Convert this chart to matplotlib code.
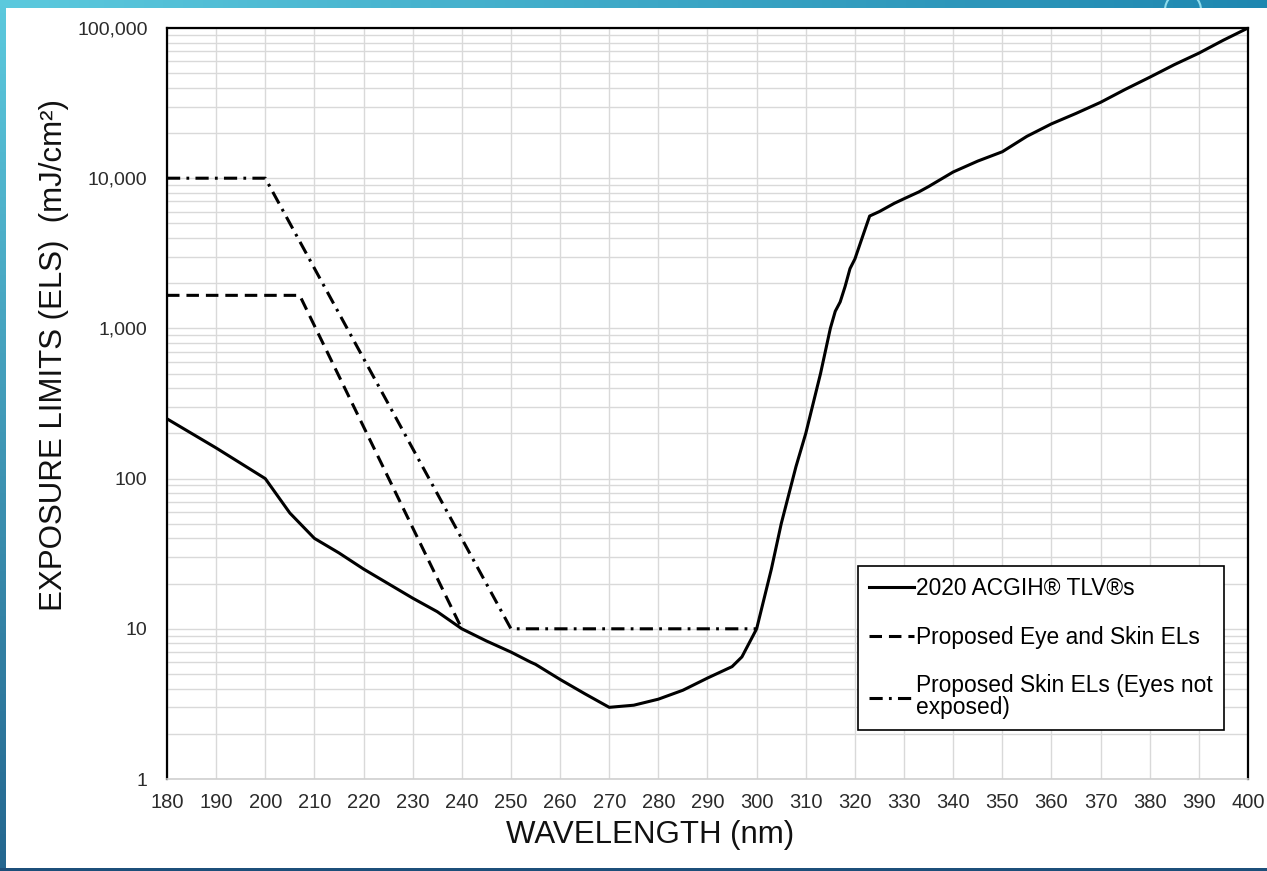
import numpy as np
import matplotlib
matplotlib.use("Agg")
import matplotlib.pyplot as plt
from matplotlib.ticker import FixedLocator, LogLocator, NullFormatter
from matplotlib.patches import Circle, Rectangle

plt.rcParams['font.family'] = ['Liberation Sans', 'DejaVu Sans']
plt.rcParams['lines.scale_dashes'] = False

# ACGIH 2020 UV TLVs (mJ/cm^2)
tlv_nm = [180, 190, 200, 205, 210, 215, 220, 225, 230, 235, 240, 245, 250, 254,
          255, 260, 265, 270, 275, 280, 285, 290, 295, 297, 300, 303, 305, 308,
          310, 313, 315, 316, 317, 318, 319, 320, 322, 323, 325, 328, 330, 333,
          335, 340, 345, 350, 355, 360, 365, 370, 375, 380, 385, 390, 395, 400]
tlv_val = [250, 160, 100, 59, 40, 32, 25, 20, 16, 13, 10, 8.3, 7.0, 6.0,
           5.8, 4.6, 3.7, 3.0, 3.1, 3.4, 3.9, 4.7, 5.6, 6.5, 10, 25, 50, 120,
           200, 500, 1000, 1300, 1500, 1900, 2500, 2900, 4500, 5600, 6000, 6800, 7300, 8100,
           8800, 11000, 13000, 15000, 19000, 23000, 27000, 32000, 39000, 47000, 57000, 68000, 83000, 100000]

# proposed eye and skin exposure limits
eye_nm = [180, 207, 240]
eye_val = [1660, 1660, 10]

# proposed skin limits, eyes not exposed
skin_nm = [180, 200, 250, 300]
skin_val = [10000, 10000, 10, 10]

x_ticks = list(range(180, 401, 10))
y_ticks = [1, 10, 100, 1000, 10000, 100000]
y_labels = ['1', '10', '100', '1,000', '10,000', '100,000']

W, H = 1267, 871
fig = plt.figure(figsize=(W / 100, H / 100), dpi=100)

# slide frame strips
bg = fig.add_axes([0, 0, 1, 1], zorder=-5)
bg.axis('off')
top = np.linspace(0, 1, 256)[None, :, None]
c0 = np.array([0.36, 0.79, 0.87])
c1 = np.array([0.12, 0.53, 0.69])
bg.imshow(c0 + (c1 - c0) * top, extent=(0, W, 8, 0), aspect='auto')
left = np.linspace(0, 1, 256)[:, None, None]
l1 = np.array([0.14, 0.40, 0.56])
bg.imshow(c0 + (l1 - c0) * left, extent=(0, 6, H, 0), aspect='auto')
bg.imshow(np.array([[[0.11, 0.31, 0.48]]]), extent=(0, W, H, 868), aspect='auto')
ring = Circle((1183, 10), 18, fill=False, ec='#8edcec', lw=1.5)
bg.add_patch(ring)
strip = Rectangle((0, 0), W, 8, transform=bg.transData, fill=False, lw=0)
bg.add_patch(strip)
ring.set_clip_path(strip)
bg.set_xlim(0, W)
bg.set_ylim(H, 0)

ax = fig.add_axes([167 / W, 1 - 779 / H, (1248 - 167) / W, (779 - 28) / H])

ax.plot(tlv_nm, tlv_val, color='black', lw=2.2, label='2020 ACGIH® TLV®s', zorder=3)
ax.plot(eye_nm, eye_val, color='black', lw=2.2, dashes=(9, 5),
        label='Proposed Eye and Skin ELs', zorder=3)
ax.plot(skin_nm, skin_val, color='black', lw=2.2, dashes=(9.5, 4.5, 2, 4.5),
        label='Proposed Skin ELs (Eyes not\nexposed)', zorder=3)

ax.set_yscale('log')
ax.set_xlim(180, 400)
ax.set_ylim(1, 100000)
ax.xaxis.set_major_locator(FixedLocator(x_ticks))
ax.set_xticklabels([str(v) for v in x_ticks])
ax.yaxis.set_major_locator(FixedLocator(y_ticks))
ax.set_yticklabels(y_labels)
ax.yaxis.set_minor_locator(LogLocator(base=10, subs=np.arange(2, 10)))
ax.yaxis.set_minor_formatter(NullFormatter())
ax.tick_params(axis='x', length=0, pad=10, labelsize=14.5, colors='#2b2b2b')
ax.tick_params(axis='y', which='both', length=0, pad=14, labelsize=14, colors='#2b2b2b')

ax.grid(True, which='both', color='#d9d9d9', lw=1)
ax.set_axisbelow(True)
for s in ['left', 'top', 'right']:
    ax.spines[s].set_color('black')
    ax.spines[s].set_linewidth(1.6)
ax.spines['bottom'].set_color('#d0d0d0')
ax.spines['bottom'].set_linewidth(1.2)

fig.text(650 / W, 1 - 835 / H, 'WAVELENGTH (nm)', fontsize=22.5, color='#111111',
         ha='center', va='center')
fig.text(54 / W, 1 - 355 / H, 'EXPOSURE LIMITS (ELS)  (mJ/cm²)', fontsize=22.5,
         color='#111111', ha='center', va='center', rotation=90)

leg = ax.legend(loc='upper left', bbox_to_anchor=(0.639, 0.2836), fontsize=16.4,
                handlelength=1.95, handletextpad=0.1, labelspacing=1.12,
                borderpad=0.5, borderaxespad=0, fancybox=False, framealpha=1,
                edgecolor='black')
leg.get_frame().set_linewidth(1.2)
for t in leg.get_texts():
    t.set_linespacing(0.9)
leg.set_zorder(5)

fig.savefig('out.png', dpi=100)
